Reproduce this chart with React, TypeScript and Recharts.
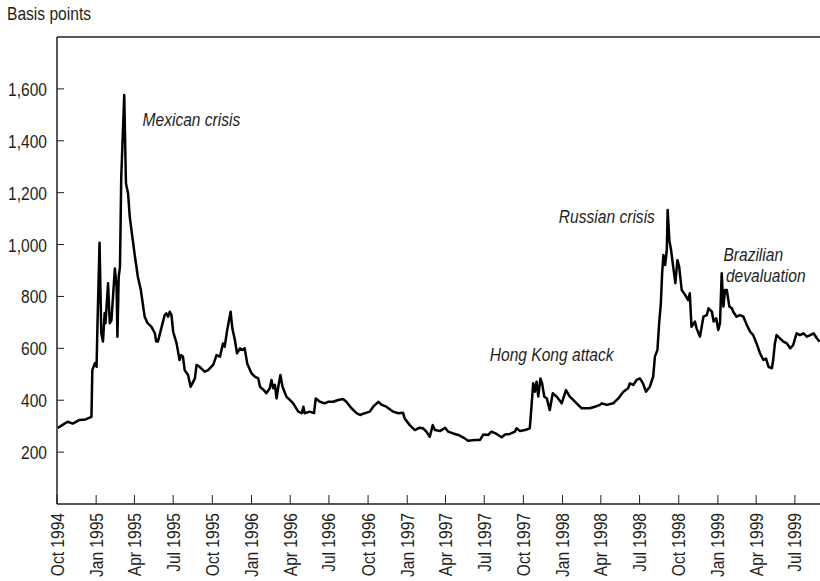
import { LineChart, Line, XAxis, YAxis, ReferenceLine, ReferenceDot } from 'recharts';

// Liberation Sans squeezed to 82% gives the metrics of a narrow sans
const FONT = "'Liberation Sans', Arial, sans-serif";
const SQUEEZE = 0.82;
const INK = '#231f20';

// days counted from 1 Oct 1994
const days = [
  2, 13, 25, 37, 53, 67, 81, 83, 89, 93, 95, 100, 104, 108, 112, 114, 120, 124, 128, 136,
  140, 142, 145, 148, 151, 158, 162, 167, 171, 177, 183, 190, 197, 202, 206, 213, 222, 230, 233, 237,
  241, 253, 257, 261, 265, 269, 273, 281, 288, 292, 296, 300, 308, 314, 320, 324, 328, 335, 347, 355,
  367, 375, 383, 390, 394, 400, 408, 412, 418, 423, 430, 436, 441, 447, 457, 465, 473, 477, 486, 492,
  500, 504, 508, 512, 516, 520, 525, 530, 539, 547, 555, 567, 575, 579, 582, 594, 604, 608, 618, 629,
  637, 649, 661, 672, 680, 692, 704, 712, 723, 735, 743, 755, 763, 774, 790, 802, 813, 817, 829, 841,
  852, 860, 868, 876, 883, 888, 900, 912, 919, 931, 943, 955, 966, 982, 994, 1002, 1013, 1021, 1033, 1045,
  1053, 1064, 1076, 1080, 1088, 1100, 1111, 1115, 1119, 1123, 1127, 1131, 1136, 1140, 1145, 1151, 1158, 1165, 1174, 1186,
  1196, 1205, 1213, 1221, 1233, 1252, 1264, 1276, 1280, 1292, 1307, 1319, 1331, 1342, 1346, 1354, 1362, 1370, 1377, 1384,
  1393, 1401, 1405, 1411, 1415, 1419, 1422, 1425, 1429, 1433, 1435, 1439, 1443, 1448, 1453, 1458, 1462, 1468, 1476, 1483,
  1487, 1491, 1499, 1503, 1511, 1519, 1527, 1531, 1539, 1543, 1549, 1554, 1558, 1562, 1566, 1570, 1574, 1580, 1586, 1589,
  1597, 1605, 1613, 1621, 1629, 1636, 1644, 1652, 1660, 1666, 1672, 1680, 1683, 1687, 1691, 1699, 1707, 1715, 1723, 1730,
  1738, 1746, 1754, 1762, 1770, 1778, 1786, 1792,
];

const spread = [
  293, 305, 317, 310, 324, 326, 336, 516, 543, 529, 683, 1007, 659, 626, 736, 697, 851, 697, 709, 908,
  838, 645, 876, 915, 1261, 1576, 1236, 1197, 1107, 1030, 956, 876, 825, 767, 722, 697, 683, 658, 626, 626,
  651, 728, 735, 722, 741, 728, 664, 619, 555, 574, 568, 516, 497, 452, 471, 484, 536, 529, 510, 516,
  536, 574, 568, 619, 606, 671, 741, 677, 632, 581, 600, 594, 600, 542, 504, 491, 484, 452, 439, 427,
  446, 478, 446, 459, 407, 452, 497, 452, 414, 401, 388, 356, 350, 375, 350, 356, 350, 407, 394, 388,
  394, 394, 401, 405, 394, 369, 350, 343, 350, 356, 375, 394, 382, 375, 356, 350, 352, 330, 304, 285,
  294, 292, 279, 259, 304, 285, 281, 294, 279, 272, 266, 256, 244, 247, 247, 268, 266, 279, 270, 257,
  268, 270, 279, 292, 281, 285, 292, 375, 465, 433, 471, 414, 484, 465, 414, 407, 362, 427, 414, 388,
  439, 414, 401, 388, 369, 369, 375, 382, 388, 382, 388, 407, 433, 446, 465, 459, 478, 484, 465, 433,
  452, 491, 568, 594, 697, 773, 889, 960, 921, 979, 1133, 1017, 979, 915, 851, 940, 915, 825, 806, 786,
  812, 683, 703, 677, 645, 722, 728, 754, 741, 703, 716, 671, 697, 889, 761, 825, 825, 761, 754, 741,
  722, 728, 722, 690, 664, 651, 619, 581, 555, 561, 529, 523, 555, 619, 651, 638, 626, 619, 600, 613,
  658, 651, 658, 645, 651, 658, 638, 626,
];

const tickDates = [
  '1994-10-01', '1995-01-01', '1995-04-01', '1995-07-01', '1995-10-01', '1996-01-01', '1996-04-01',
  '1996-07-01', '1996-10-01', '1997-01-01', '1997-04-01', '1997-07-01', '1997-10-01', '1998-01-01',
  '1998-04-01', '1998-07-01', '1998-10-01', '1999-01-01', '1999-04-01', '1999-07-01',
];
const tickLabels = [
  'Oct 1994', 'Jan 1995', 'Apr 1995', 'Jul 1995', 'Oct 1995', 'Jan 1996', 'Apr 1996',
  'Jul 1996', 'Oct 1996', 'Jan 1997', 'Apr 1997', 'Jul 1997', 'Oct 1997', 'Jan 1998',
  'Apr 1998', 'Jul 1998', 'Oct 1998', 'Jan 1999', 'Apr 1999', 'Jul 1999',
];
const yTicks = [200, 400, 600, 800, 1000, 1200, 1400, 1600];

const notes = [
  { text: 'Mexican crisis', day: 201, value: 1457, anchor: 'start' },
  { text: 'Russian crisis', day: 1405, value: 1083, anchor: 'end' },
  { text: 'Brazilian', day: 1566, value: 938, anchor: 'start' },
  { text: 'devaluation', day: 1572, value: 854, anchor: 'start' },
  { text: 'Hong Kong attack', day: 1017, value: 552, anchor: 'start' },
];

const ORIGIN = Date.UTC(1994, 9, 1);
const toDay = (iso: string) => {
  const [y, m, d] = iso.split('-').map(Number);
  return Math.round((Date.UTC(y, m - 1, d) - ORIGIN) / 86400000);
};
const xTicks = tickDates.map(toDay);
const labelByDay: Record<number, string> = {};
xTicks.forEach((d, i) => (labelByDay[d] = tickLabels[i]));

const data = days.map((d, i) => ({ day: d, spread: spread[i] }));

const XTick = (props: any) => {
  const { x, y, payload } = props;
  return (
    <g>
      <line x1={x} x2={x} y1={y - 9} y2={y} stroke={INK} strokeWidth={1} />
      <text
        transform={`translate(${x + 6.5} ${y + 9}) rotate(-90) scale(${SQUEEZE} 1)`}
        textAnchor="end"
        fontFamily={FONT}
        fontSize={19}
        fill={INK}
      >
        {labelByDay[payload.value]}
      </text>
    </g>
  );
};

const YTick = (props: any) => {
  const { x, y, payload } = props;
  return (
    <g>
      <line x1={x} x2={x + 7} y1={y} y2={y} stroke={INK} strokeWidth={1} />
      <text
        transform={`translate(${x - 10} ${y + 7}) scale(${SQUEEZE} 1)`}
        textAnchor="end"
        fontFamily={FONT}
        fontSize={19}
        fill={INK}
      >
        {payload.value.toLocaleString('en-US')}
      </text>
    </g>
  );
};

const NoteLabel = (props: any) => {
  const { viewBox, text, anchor } = props;
  return (
    <text
      transform={`translate(${viewBox.x} ${viewBox.y}) scale(${SQUEEZE} 1)`}
      textAnchor={anchor}
      fontFamily={FONT}
      fontStyle="italic"
      fontSize={19}
      fill={INK}
    >
      {text}
    </text>
  );
};

export default function App() {
  return (
    <div style={{ position: 'absolute', left: 0, top: 0, width: 820, height: 581, background: '#fff' }}>
      <div
        style={{
          position: 'absolute',
          left: 7,
          top: 4,
          fontFamily: FONT,
          fontSize: 19,
          lineHeight: '19px',
          color: INK,
          transform: `scaleX(${SQUEEZE})`,
          transformOrigin: 'left top',
          whiteSpace: 'nowrap',
        }}
      >
        Basis points
      </div>
      <LineChart width={820} height={581} data={data} margin={{ top: 37, right: 0, bottom: 0, left: 0 }}>
        <XAxis
          type="number"
          dataKey="day"
          domain={[0, 1793]}
          ticks={xTicks}
          interval={0}
          tick={<XTick />}
          tickLine={false}
          tickSize={0}
          tickMargin={0}
          height={77}
          axisLine={{ stroke: INK, strokeWidth: 1.5 }}
        />
        <YAxis
          type="number"
          domain={[0, 1800]}
          ticks={yTicks}
          interval={0}
          tick={<YTick />}
          tickLine={false}
          tickSize={0}
          tickMargin={0}
          width={57}
          axisLine={{ stroke: INK, strokeWidth: 1.5 }}
        />
        <ReferenceLine y={1800} stroke={INK} strokeWidth={1.5} />
        <Line
          type="linear"
          dataKey="spread"
          stroke="#000"
          strokeWidth={2.5}
          strokeLinejoin="round"
          dot={false}
          activeDot={false}
          isAnimationActive={false}
        />
        {notes.map((n) => (
          <ReferenceDot
            key={n.text}
            x={n.day}
            y={n.value}
            r={0}
            fill="none"
            stroke="none"
            label={<NoteLabel text={n.text} anchor={n.anchor} />}
          />
        ))}
      </LineChart>
    </div>
  );
}
